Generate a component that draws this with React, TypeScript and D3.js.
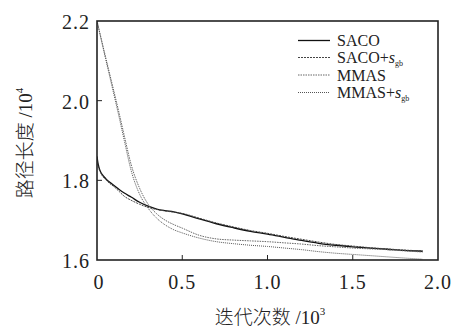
import React from "react";
import * as d3 from "d3";

const iterations = [0, 0.005, 0.01, 0.02, 0.03, 0.05, 0.075, 0.1, 0.13, 0.16, 0.2, 0.25, 0.3, 0.35, 0.4, 0.45, 0.5, 0.6, 0.7, 0.8, 0.9, 1.0, 1.1, 1.2, 1.3, 1.4, 1.5, 1.6, 1.7, 1.8, 1.91];

const saco = [1.86, 1.845, 1.835, 1.822, 1.815, 1.805, 1.795, 1.787, 1.777, 1.768, 1.758, 1.745, 1.735, 1.728, 1.724, 1.721, 1.716, 1.703, 1.691, 1.681, 1.672, 1.665, 1.657, 1.649, 1.642, 1.637, 1.633, 1.63, 1.627, 1.624, 1.622];
const sacoSgb = [1.85, 1.838, 1.83, 1.82, 1.812, 1.802, 1.792, 1.784, 1.772, 1.76, 1.75, 1.74, 1.732, 1.727, 1.723, 1.72, 1.717, 1.705, 1.693, 1.683, 1.674, 1.667, 1.659, 1.652, 1.645, 1.639, 1.635, 1.631, 1.628, 1.625, 1.623];
const mmas = [2.2, 2.191, 2.182, 2.164, 2.146, 2.11, 2.066, 2.022, 1.968, 1.912, 1.84, 1.78, 1.74, 1.716, 1.7, 1.689, 1.68, 1.662, 1.653, 1.65, 1.648, 1.646, 1.643, 1.64, 1.636, 1.633, 1.63, 1.628, 1.626, 1.623, 1.62];
const mmasSgb = [2.2, 2.191, 2.181, 2.162, 2.143, 2.106, 2.06, 2.014, 1.958, 1.9, 1.825, 1.765, 1.73, 1.705, 1.688, 1.676, 1.668, 1.655, 1.646, 1.641, 1.637, 1.634, 1.63, 1.626, 1.621, 1.617, 1.614, 1.611, 1.608, 1.605, 1.602];

const xTicks = [0, 0.5, 1.0, 1.5, 2.0];
const yTicks = [1.6, 1.8, 2.0, 2.2];

const seriesNames = ["SACO", "SACO+", "MMAS", "MMAS+"];
const seriesSub = ["", "gb", "", "gb"];

const LEFT = 97, RIGHT = 438, TOP = 21, BOTTOM = 260;
const FONT = "'Liberation Serif', 'Times New Roman', 'Noto Sans CJK SC', serif";
const CJK = "'Noto Sans CJK SC', 'Liberation Serif', serif";

const styles = [
  { stroke: "#111", width: 1.3, dash: "" },
  { stroke: "#444", width: 1, dash: "2,1" },
  { stroke: "#666", width: 1, dash: "1.5,1" },
  { stroke: "#555", width: 1, dash: "1,1" },
];

export default function App() {
  const x = d3.scaleLinear().domain([0, 2.0]).range([LEFT, RIGHT]);
  const y = d3.scaleLinear().domain([1.6, 2.2]).range([BOTTOM, TOP]);
  const allSeries = [saco, sacoSgb, mmas, mmasSgb];
  const line = (vals: number[]) =>
    d3.line<number>().x((_, i) => x(iterations[i])).y((v) => y(v)).curve(d3.curveMonotoneX)(vals) || "";

  const legendY = [40.5, 57.5, 75, 92.5];

  return (
    <div style={{ position: "absolute", left: 0, top: 0 }}>
      <svg width={458} height={328} style={{ display: "block", background: "#fff" }}>
        <defs>
          <clipPath id="plot">
            <rect x={LEFT} y={TOP} width={RIGHT - LEFT} height={BOTTOM - TOP} />
          </clipPath>
        </defs>
        <g clipPath="url(#plot)">
          {allSeries.map((s, i) => (
            <path key={i} d={line(s)} fill="none" stroke={styles[i].stroke} strokeWidth={styles[i].width} strokeDasharray={styles[i].dash || undefined} />
          ))}
        </g>
        <rect x={LEFT} y={TOP} width={RIGHT - LEFT} height={BOTTOM - TOP} fill="none" stroke="#222" strokeWidth={1.6} />
        {xTicks.slice(1, -1).map((t) => (
          <line key={"xt" + t} x1={x(t)} x2={x(t)} y1={BOTTOM} y2={BOTTOM - 5} stroke="#222" strokeWidth={1} />
        ))}
        {yTicks.slice(1, -1).map((t) => (
          <line key={"yt" + t} x1={LEFT} x2={LEFT + 5} y1={y(t)} y2={y(t)} stroke="#222" strokeWidth={1} />
        ))}
        {xTicks.map((t) => (
          <text key={"xl" + t} x={x(t) + (t === 0 ? 2 : 0)} y={289} textAnchor="middle" fontFamily={FONT} fontSize={20} letterSpacing={1} fill="#222">
            {t === 0 ? "0" : d3.format(".1f")(t)}
          </text>
        ))}
        {yTicks.map((t) => (
          <text key={"yl" + t} x={90} y={y(t) + 8} textAnchor="end" fontFamily={FONT} fontSize={20} letterSpacing={1} fill="#222">
            {d3.format(".1f")(t)}
          </text>
        ))}
        <text x={270} y={324} textAnchor="middle" fontFamily={CJK} fontWeight={300} fontSize={19} fill="#222">
          迭代次数
          <tspan fontFamily={FONT} fontWeight={400}> /10</tspan>
          <tspan fontFamily={FONT} fontWeight={400} fontSize={11} dy={-9}>3</tspan>
        </text>
        <text transform="translate(32,143) rotate(-90)" textAnchor="middle" fontFamily={CJK} fontWeight={300} fontSize={19} fill="#222">
          路径长度
          <tspan fontFamily={FONT} fontWeight={400}> /10</tspan>
          <tspan fontFamily={FONT} fontWeight={400} fontSize={11} dy={-9}>4</tspan>
        </text>
        {seriesNames.map((n, i) => (
          <g key={"lg" + i}>
            <line x1={298} x2={330} y1={legendY[i]} y2={legendY[i]} stroke={styles[i].stroke} strokeWidth={styles[i].width} strokeDasharray={styles[i].dash || undefined} />
            <text x={337} y={legendY[i] + 5.5} fontFamily={FONT} fontSize={16} fill="#222">
              {n}
              {seriesSub[i] && <tspan fontStyle="italic">s</tspan>}
              {seriesSub[i] && <tspan fontSize={8} dy={3}>{seriesSub[i]}</tspan>}
            </text>
          </g>
        ))}
      </svg>
    </div>
  );
}
